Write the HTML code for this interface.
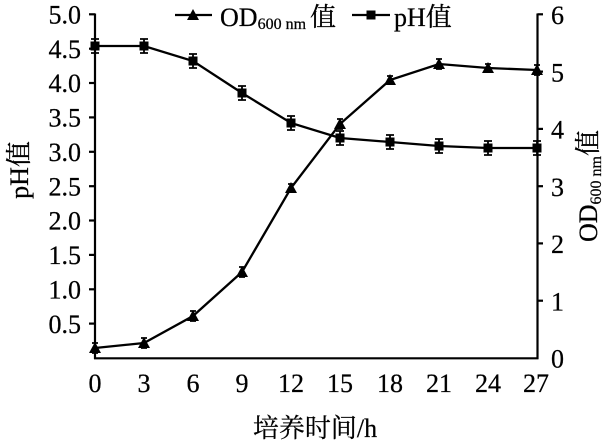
<!DOCTYPE html>
<html><head><meta charset="utf-8"><style>
html,body{margin:0;padding:0;background:#fff;}
svg{display:block;}
text{font-family:"Liberation Serif","Noto Serif CJK SC",serif;fill:#000;stroke:#000;stroke-width:0.25;}
</style></head><body>
<svg width="610" height="442" viewBox="0 0 610 442" xmlns="http://www.w3.org/2000/svg">
<rect width="610" height="442" fill="#fff"/>
<!-- axes -->
<g stroke="#000" stroke-width="2.2" fill="none">
<line x1="95" y1="13.5" x2="95" y2="359"/>
<line x1="537.5" y1="13.5" x2="537.5" y2="359"/>
<line x1="94" y1="358.3" x2="538.5" y2="358.3"/>
<!-- left ticks -->
<line x1="89" y1="14.3" x2="95" y2="14.3"/>
<line x1="89" y1="48.7" x2="95" y2="48.7"/>
<line x1="89" y1="83" x2="95" y2="83"/>
<line x1="89" y1="117.4" x2="95" y2="117.4"/>
<line x1="89" y1="151.8" x2="95" y2="151.8"/>
<line x1="89" y1="186.2" x2="95" y2="186.2"/>
<line x1="89" y1="220.5" x2="95" y2="220.5"/>
<line x1="89" y1="254.9" x2="95" y2="254.9"/>
<line x1="89" y1="289.3" x2="95" y2="289.3"/>
<line x1="89" y1="323.6" x2="95" y2="323.6"/>
<!-- right ticks -->
<line x1="537.5" y1="14.3" x2="543" y2="14.3"/>
<line x1="537.5" y1="71.6" x2="543" y2="71.6"/>
<line x1="537.5" y1="128.9" x2="543" y2="128.9"/>
<line x1="537.5" y1="186.2" x2="543" y2="186.2"/>
<line x1="537.5" y1="243.4" x2="543" y2="243.4"/>
<line x1="537.5" y1="300.7" x2="543" y2="300.7"/>
</g>
<!-- left tick labels -->
<g font-size="26" text-anchor="end">
<text x="81" y="23.5">5.0</text>
<text x="81" y="57.9">4.5</text>
<text x="81" y="92.2">4.0</text>
<text x="81" y="126.6">3.5</text>
<text x="81" y="161">3.0</text>
<text x="81" y="195.4">2.5</text>
<text x="81" y="229.7">2.0</text>
<text x="81" y="264.1">1.5</text>
<text x="81" y="298.5">1.0</text>
<text x="81" y="332.8">0.5</text>
</g>
<!-- right tick labels -->
<g font-size="26" text-anchor="start">
<text x="551" y="24">6</text>
<text x="551" y="81.3">5</text>
<text x="551" y="138.6">4</text>
<text x="551" y="195.9">3</text>
<text x="551" y="253.1">2</text>
<text x="551" y="310.4">1</text>
<text x="551" y="367.7">0</text>
</g>
<!-- bottom tick labels -->
<g font-size="26" text-anchor="middle">
<text x="95" y="392">0</text>
<text x="144" y="392">3</text>
<text x="193" y="392">6</text>
<text x="242" y="392">9</text>
<text x="291" y="392">12</text>
<text x="340" y="392">15</text>
<text x="390" y="392">18</text>
<text x="439" y="392">21</text>
<text x="488" y="392">24</text>
<text x="536" y="392">27</text>
</g>
<!-- axis titles -->
<text x="315" y="437" font-size="26" text-anchor="middle">培养时间/h</text>
<text transform="translate(28,170) rotate(-90)" font-size="26" text-anchor="middle">pH值</text>
<text transform="translate(597,186) rotate(-90)" font-size="26" text-anchor="middle">OD<tspan font-size="16" dy="4">600 nm</tspan><tspan dy="-4">值</tspan></text>
<!-- legend -->
<g stroke="#000" stroke-width="2.2">
<line x1="175" y1="15" x2="212" y2="15"/>
<line x1="352" y1="15" x2="390" y2="15"/>
</g>
<polygon points="193,9 199,20 187,20" fill="#000"/>
<rect x="366.5" y="10.5" width="9" height="9" fill="#000"/>
<text x="220" y="26" font-size="26">OD<tspan font-size="16" dy="3">600 nm</tspan><tspan dy="-3" dx="4">值</tspan></text>
<text x="394" y="26" font-size="26">pH值</text>
<!-- pH series -->
<polyline fill="none" stroke="#000" stroke-width="2.3" points="95,46 144,46 193,61 242,93 291,123 340,138 390,142 439,146 488,148 537,148"/>
<g stroke="#000" stroke-width="1.8">
<path d="M95,39V53M91,39H99M91,53H99"/>
<path d="M144,39V53M140,39H148M140,53H148"/>
<path d="M193,54V68M189,54H197M189,68H197"/>
<path d="M242,86V100M238,86H246M238,100H246"/>
<path d="M291,116V130M287,116H295M287,130H295"/>
<path d="M340,131V145M336,131H344M336,145H344"/>
<path d="M390,135V149M386,135H394M386,149H394"/>
<path d="M439,139V153M435,139H443M435,153H443"/>
<path d="M488,141V155M484,141H492M484,155H492"/>
<path d="M537,141V155M533,141H541M533,155H541"/>
</g>
<g fill="#000">
<rect x="90.5" y="41.5" width="9" height="9"/>
<rect x="139.5" y="41.5" width="9" height="9"/>
<rect x="188.5" y="56.5" width="9" height="9"/>
<rect x="237.5" y="88.5" width="9" height="9"/>
<rect x="286.5" y="118.5" width="9" height="9"/>
<rect x="335.5" y="133.5" width="9" height="9"/>
<rect x="385.5" y="137.5" width="9" height="9"/>
<rect x="434.5" y="141.5" width="9" height="9"/>
<rect x="483.5" y="143.5" width="9" height="9"/>
<rect x="532.5" y="143.5" width="9" height="9"/>
</g>
<!-- OD series -->
<polyline fill="none" stroke="#000" stroke-width="2.3" points="95,348 144,343 193,316 242,272 291,188 340,124 390,80 439,64 488,68 537,70"/>
<g stroke="#000" stroke-width="1.8">
<path d="M95,343V353M92,343H98M92,353H98"/>
<path d="M144,338V348M141,338H147M141,348H147"/>
<path d="M193,311V321M190,311H196M190,321H196"/>
<path d="M242,267V277M239,267H245M239,277H245"/>
<path d="M291,184V192M288,184H294M288,192H294"/>
<path d="M340,119V129M337,119H343M337,129H343"/>
<path d="M390,76V84M387,76H393M387,84H393"/>
<path d="M439,59V69M436,59H442M436,69H442"/>
<path d="M488,64V72M485,64H491M485,72H491"/>
<path d="M537,65V75M534,65H540M534,75H540"/>
</g>
<g fill="#000">
<polygon points="95,342 101,353 89,353"/>
<polygon points="144,337 150,348 138,348"/>
<polygon points="193,310 199,321 187,321"/>
<polygon points="242,266 248,277 236,277"/>
<polygon points="291,182 297,193 285,193"/>
<polygon points="340,118 346,129 334,129"/>
<polygon points="390,74 396,85 384,85"/>
<polygon points="439,58 445,69 433,69"/>
<polygon points="488,62 494,73 482,73"/>
<polygon points="537,64 543,75 531,75"/>
</g>
</svg>
</body></html>
